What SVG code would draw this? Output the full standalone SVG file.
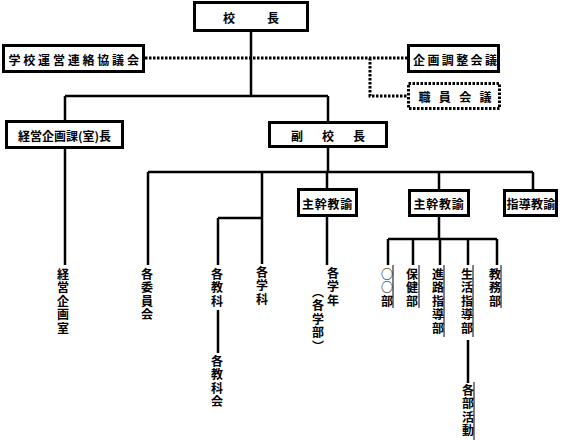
<svg xmlns="http://www.w3.org/2000/svg" width="565" height="440" viewBox="0 0 565 440">
<style>
 .box rect{fill:#fff;stroke:#000;stroke-width:3}
 .dbox rect{fill:#fff;stroke:#000;stroke-width:3;stroke-dasharray:2.5 1.5}
 text{font-family:"Noto Sans CJK JP","Noto Sans CJK SC",sans-serif;font-weight:700;font-size:12px;fill:#000}
 .h{text-anchor:middle;dominant-baseline:central}
 .v{writing-mode:vertical-rl;letter-spacing:1.6px}
 .ln{stroke:#000;stroke-width:2.5;fill:none}
 .thin{stroke:#000;stroke-width:1;fill:none}
 .dot{stroke:#000;stroke-width:3;stroke-dasharray:2.5 1.5;fill:none}
</style>
<rect width="565" height="440" fill="#fff"/>
<g id="connectors">
 <path class="ln" d="M251 32V96M65 96H328M65 96V120M65 149V265M328 96V121M328 148V172M148 172H533M148 172V265M262 172V264M218 218H262M218 218V265M218 310V353M327 172V188M327 217V265M439 172V189M439 217V239M533 172V189M388 239H497M388 239V265M413 239V265M440 239V265M468 239V265M497 239V265M468 340V383"/>
 <path class="thin" d="M393 265V308M419 265V308M444 265V337M473 265V337M501 265V308M474 382V440"/>
 <path class="dot" d="M145 58H407M370 58V96H407"/>
</g>
<g id="kocho" class="box"><rect x="194.5" y="2.5" width="113" height="28"/><text class="h" x="229 273" y="17">校長</text></g>
<g id="renraku" class="box"><rect x="3.5" y="45.5" width="140" height="26"/><text class="h" x="14.5 29.3 44.1 58.9 73.7 88.5 103.3 118.1 132.9" y="59">学校運営連絡協議会</text></g>
<g id="kikaku-chosei" class="box"><rect x="408.5" y="45.5" width="90" height="26"/><text class="h" x="419 433.4 447.8 462.2 476.6 491" y="59">企画調整会議</text></g>
<g id="shokuin" class="dbox"><rect x="408.5" y="83.5" width="91" height="25"/><text class="h" x="424.5 444.8 465.2 485.5" y="96.5">職員会議</text></g>
<g id="keiei-kacho" class="box"><rect x="6.5" y="121.5" width="116" height="26"/><text class="h" x="64.5" y="135.5">経営企画課(室)長</text></g>
<g id="fukukocho" class="box"><rect x="269.5" y="122.5" width="117" height="24"/><text class="h" x="297 328 359" y="135">副校長</text></g>
<g id="shukan1" class="box"><rect x="298.5" y="189.5" width="58" height="26"/><text class="h" x="327.5" y="203" style="letter-spacing:0.7px">主幹教諭</text></g>
<g id="shukan2" class="box"><rect x="409.5" y="190.5" width="59" height="25"/><text class="h" x="439" y="203.5" style="letter-spacing:0.7px">主幹教諭</text></g>
<g id="shido" class="box"><rect x="504.5" y="190.5" width="52" height="25"/><text class="h" x="531" y="203.5" style="letter-spacing:0.3px">指導教諭</text></g>
<g id="keiei-kikakushitsu"><text class="v" x="63" y="268">経営企画室</text></g>
<g id="iinkai"><text class="v" x="147" y="268">各委員会</text></g>
<g id="kyoka"><text class="v" x="217" y="268">各教科</text></g>
<g id="kyokakai"><text class="v" x="217" y="355">各教科会</text></g>
<g id="gakka"><text class="v" x="262" y="266">各学科</text></g>
<g id="gakunen"><text class="v" x="333" y="267">各学年</text><text class="v" x="318" y="286">（各学部）</text></g>
<g id="maru-bu"><text class="v" x="387" y="268">○○部</text></g>
<g id="hoken"><text class="v" x="412" y="268">保健部</text></g>
<g id="shinro"><text class="v" x="438" y="268">進路指導部</text></g>
<g id="seikatsu"><text class="v" x="467" y="268">生活指導部</text></g>
<g id="kyomu"><text class="v" x="495" y="268">教務部</text></g>
<g id="bukatsu"><text class="v" x="468" y="384">各部活動</text></g>
</svg>
